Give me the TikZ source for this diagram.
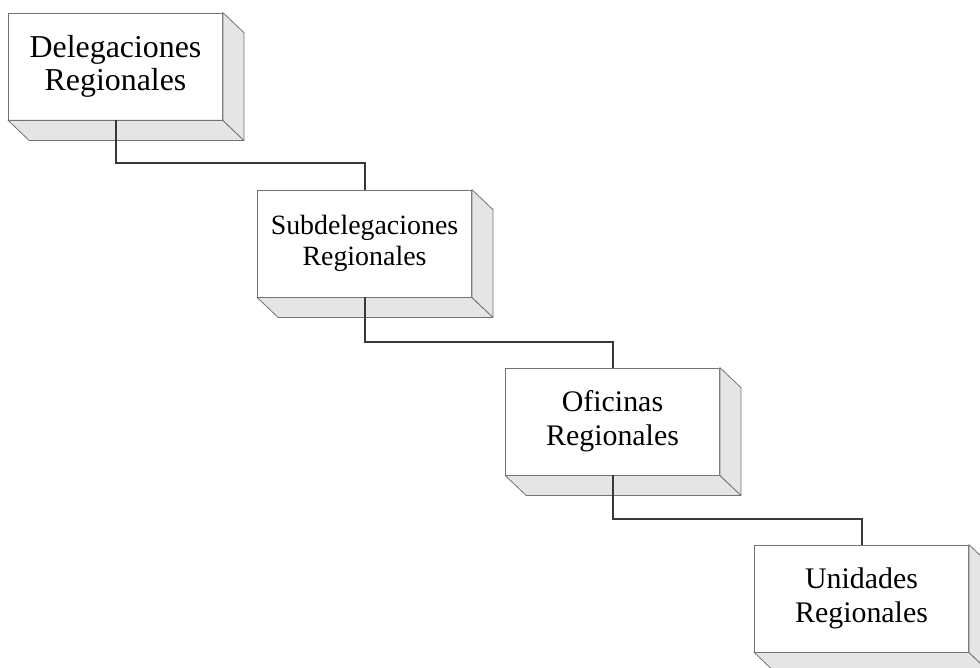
\documentclass[tikz,border=0pt]{standalone}
\usepackage{fontspec}
\setmainfont{Liberation Serif}
\tikzset{
  front/.style={draw=black!55, line width=0.8bp, fill=white, minimum width=214bp, minimum height=107bp, inner sep=0pt, align=center, text=black},
  sideface/.style={draw=black!55, line width=0.8bp, fill=black!10, line join=round},
  conn/.style={draw=black!78, line width=2bp},
}
\newcommand{\depthbox}[1]{%
  \path (#1.south west) coordinate (#1-a) ++(21,20) coordinate (#1-b);
  \path (#1.south east) coordinate (#1-c) ++(21,20) coordinate (#1-d);
  \path (#1.north east) coordinate (#1-e) ++(21,20) coordinate (#1-f);
  \path[sideface] (#1-a) -- (#1-c) -- (#1-d) -- (#1-b) -- cycle;
  \path[sideface] (#1-e) -- (#1-f) -- (#1-d) -- (#1-c) -- cycle;
}
\begin{document}
\begin{tikzpicture}[x=1bp,y=-1bp]
\useasboundingbox (0,0) rectangle (980,668);
\node[front, font=\fontsize{32}{33}\selectfont] (b1) at (115.5,66.5) {Delegaciones\\Regionales};
\node[front, font=\fontsize{28}{31}\selectfont] (b2) at (364.5,243.5) {Subdelegaciones\\Regionales};
\node[front, font=\fontsize{30}{34}\selectfont] (b3) at (612.5,421.5) {Oficinas\\Regionales};
\node[front, font=\fontsize{30}{34}\selectfont] (b4) at (861.5,598.5) {Unidades\\Regionales};
\depthbox{b1}
\depthbox{b2}
\depthbox{b3}
\depthbox{b4}
\coordinate (j1) at (240,163);
\coordinate (j2) at (490,342);
\coordinate (j3) at (735,519);
\draw[conn] (b1.south) |- (j1) -| (b2.north);
\draw[conn] (b2.south) |- (j2) -| (b3.north);
\draw[conn] (b3.south) |- (j3) -| (b4.north);
\end{tikzpicture}
\end{document}
